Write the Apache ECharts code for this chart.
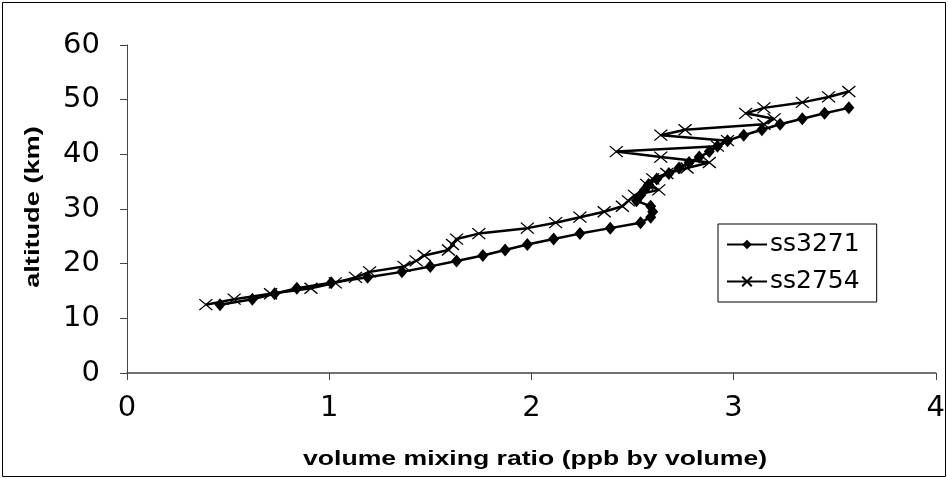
<!DOCTYPE html>
<html>
<head>
<meta charset="utf-8">
<script src="https://cdn.jsdelivr.net/npm/echarts@6/dist/echarts.min.js"></script>
<style>
  html, body { margin: 0; padding: 0; background: #fff; }
  #main { width: 948px; height: 479px; }
</style>
</head>
<body>
<div id="main"></div>
<script>
// altitude (km) and mixing ratio (ppb)
var alt3271 = [12.5, 13.5, 14.5, 15.5, 16.5, 17.5, 18.5, 19.5, 20.5, 21.5, 22.5, 23.5, 24.5,
    25.5, 26.5, 27.5, 28.5, 29.5, 30.5, 31.5, 32.5, 33.5, 34.5, 35.5, 36.5, 37.5, 38.5,
    39.5, 40.5, 41.5, 42.5, 43.5, 44.5, 45.5, 46.5, 47.5, 48.5];
var vmr3271 = [0.46, 0.62, 0.73, 0.84, 1.01, 1.19, 1.36, 1.50, 1.63, 1.76, 1.87, 1.98, 2.11,
    2.24, 2.39, 2.54, 2.59, 2.60, 2.59, 2.52, 2.54, 2.56, 2.58, 2.62, 2.68, 2.73, 2.78,
    2.83, 2.88, 2.92, 2.97, 3.05, 3.14, 3.23, 3.34, 3.45, 3.57];

var alt2754 = [12.5, 13.5, 14.5, 15.5, 16.5, 17.5, 18.5, 19.5, 20.5, 21.5, 22.5, 23.5, 24.5,
    25.5, 26.5, 27.5, 28.5, 29.5, 30.5, 31.5, 32.5, 33.5, 34.5, 35.5, 36.5, 37.5, 38.5,
    39.5, 40.5, 41.5, 42.5, 43.5, 44.5, 45.5, 46.5, 47.5, 48.5, 49.5, 50.5, 51.5];
var vmr2754 = [0.39, 0.53, 0.71, 0.91, 1.03, 1.13, 1.20, 1.37, 1.43, 1.47, 1.59, 1.61, 1.63,
    1.74, 1.98, 2.12, 2.24, 2.36, 2.45, 2.48, 2.51, 2.63, 2.57, 2.60, 2.67, 2.77, 2.88,
    2.64, 2.42, 2.92, 2.97, 2.64, 2.76, 3.15, 3.20, 3.06, 3.15, 3.34, 3.47, 3.57];

var xTicks = [0, 1, 2, 3, 4];
var yTicks = [0, 10, 20, 30, 40, 50, 60];
var xTitle = 'volume mixing ratio (ppb by volume)';
var yTitle = 'altitude (km)';

function pairs(xs, ys) {
    var out = [];
    for (var i = 0; i < xs.length; i++) {
        out.push([xs[i], ys[i]]);
    }
    return out;
}

var FONT = 'Arial, "Liberation Sans", sans-serif';
var WIDE = '"DejaVu Sans", Arial, sans-serif';   // wider digits, closer to the picture
var crossPath = 'path://M0,0L10,10M10,0L0,10';

var chart = echarts.init(document.getElementById('main'), null, { renderer: 'canvas' });
chart.setOption({
    animation: false,
    backgroundColor: '#fff',
    textStyle: { fontFamily: FONT, color: '#000' },
    graphic: [
        {
            type: 'rect',
            shape: { x: 2.5, y: 2.5, width: 943, height: 474 },
            style: { fill: 'none', stroke: '#000', lineWidth: 1 },
            silent: true
        },
        // axis titles: the source font is stretched sideways, so scale the text
        {
            type: 'text',
            x: 535, y: 459,
            scaleX: 1.33,
            style: {
                text: xTitle, fontFamily: FONT, fontSize: 20, fontWeight: 'bold',
                fill: '#000', align: 'center', verticalAlign: 'middle'
            },
            silent: true
        },
        {
            type: 'text',
            x: 33, y: 207,
            rotation: Math.PI / 2,
            scaleX: 1.36,
            style: {
                text: yTitle, fontFamily: FONT, fontSize: 20, fontWeight: 'bold',
                fill: '#000', align: 'center', verticalAlign: 'middle'
            },
            silent: true
        }
    ],
    grid: { left: 127, right: 8, top: 45, bottom: 106 },
    legend: {
        orient: 'vertical',
        left: 718,
        top: 224,
        padding: [8, 17, 8, 8],
        itemGap: 12,
        itemWidth: 40,
        itemHeight: 12,
        borderColor: '#000',
        borderWidth: 1,
        backgroundColor: '#fff',
        textStyle: { fontFamily: WIDE, fontSize: 25, color: '#000', padding: [0, 0, 0, -2] },
        data: ['ss3271', 'ss2754']
    },
    xAxis: {
        type: 'value',
        min: xTicks[0],
        max: xTicks[xTicks.length - 1],
        interval: 1,
        axisLine: { show: true, lineStyle: { color: '#444', width: 1.5 } },
        axisTick: { show: true, length: 7, lineStyle: { color: '#444' } },
        axisLabel: { fontFamily: WIDE, fontSize: 29, color: '#000', margin: 21 },
        splitLine: { show: false }
    },
    yAxis: {
        type: 'value',
        min: yTicks[0],
        max: yTicks[yTicks.length - 1],
        interval: 10,
        axisLine: { show: true, lineStyle: { color: '#444', width: 1 } },
        axisTick: { show: true, length: 7, lineStyle: { color: '#444' } },
        axisLabel: { fontFamily: WIDE, fontSize: 29, color: '#000', margin: 27 },
        splitLine: { show: false }
    },
    series: [
        {
            name: 'ss3271',
            type: 'line',
            data: pairs(vmr3271, alt3271),
            symbol: 'diamond',
            symbolSize: [11, 13],
            showAllSymbol: true,
            itemStyle: { color: '#000' },
            lineStyle: { color: '#000', width: 2.5 },
            z: 3
        },
        {
            name: 'ss2754',
            type: 'line',
            data: pairs(vmr2754, alt2754),
            symbol: crossPath,
            symbolSize: [13, 11],
            showAllSymbol: true,
            itemStyle: { color: '#000', borderColor: '#000', borderWidth: 1.3 },
            lineStyle: { color: '#000', width: 2.5 },
            z: 2
        }
    ]
});
</script>
</body>
</html>
